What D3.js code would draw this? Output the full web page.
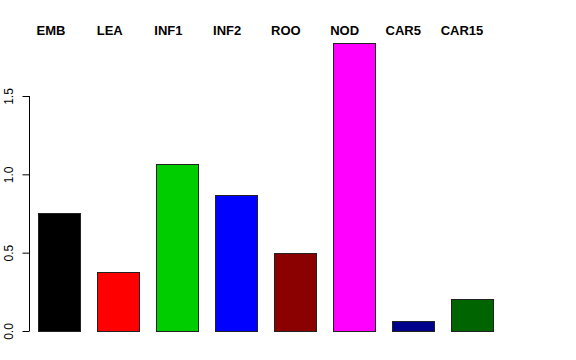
<!DOCTYPE html>
<html>
<head>
<meta charset="utf-8">
<script src="https://cdn.jsdelivr.net/npm/d3@7"></script>
<style>
  body { margin: 0; background: #fff; }
  text { font-family: "Liberation Sans", Arial, sans-serif; }
</style>
</head>
<body>
<div id="main"></div>
<script>
const ctx = { w: 576, h: 360 };

const tissues = ['EMB', 'LEA', 'INF1', 'INF2', 'ROO', 'NOD', 'CAR5', 'CAR15'];
const values = [0.753, 0.377, 1.066, 0.868, 0.498, 1.838, 0.064, 0.204];
const barColors = ['#000000', '#FF0000', '#00CD00', '#0000FF', '#8B0000', '#FF00FF', '#00008B', '#006400'];
const yTicks = [0.0, 0.5, 1.0, 1.5];

const svg = d3.select("#main").append("svg")
    .attr("width", ctx.w)
    .attr("height", ctx.h);

// y scale: 0 at 331px, 1.5 at 96px
const y = d3.scaleLinear()
    .domain([0, 1.5])
    .range([331, 96]);

const x = d3.scaleBand()
    .domain(tissues)
    .range([29.5, 501.5])
    .paddingInner(0.29)
    .paddingOuter(0.145);

// labels on top sit on their own spacing
const xLab = d3.scalePoint()
    .domain(tissues)
    .range([51, 462]);

svg.selectAll(".bar")
    .data(tissues)
    .enter().append("rect")
    .attr("class", "bar")
    .attr("x", d => Math.round(x(d)) + 0.5)
    .attr("width", Math.round(x.bandwidth()))
    .attr("y", (d, i) => Math.round(y(values[i])) + 0.5)
    .attr("height", (d, i) => Math.round(y(0)) - Math.round(y(values[i])))
    .attr("fill", (d, i) => barColors[i])
    .attr("stroke", "#222")
    .attr("stroke-width", 1);

// y axis, R style
const yAxis = svg.append("g")
    .attr("transform", "translate(29.5,0)")
    .call(d3.axisLeft(y).tickValues(yTicks).tickFormat(d3.format(".1f")).tickSize(7).tickPadding(10));
yAxis.select(".domain").attr("d", `M0,${y(0)}V${y(1.5)}`);
yAxis.selectAll(".tick line").attr("stroke", "#000");
yAxis.selectAll(".tick text")
    .attr("font-size", 12)
    .attr("font-family", "Liberation Sans, Arial, sans-serif")
    .attr("transform", "rotate(-90)")
    .attr("x", 0)
    .attr("y", -17)
    .attr("dy", 0)
    .attr("text-anchor", "middle");

svg.selectAll(".lab")
    .data(tissues)
    .enter().append("text")
    .attr("class", "lab")
    .attr("x", d => xLab(d))
    .attr("y", 35)
    .attr("text-anchor", "middle")
    .style("font-size", "13px")
    .style("font-weight", "bold")
    .text(d => d);
</script>
</body>
</html>
